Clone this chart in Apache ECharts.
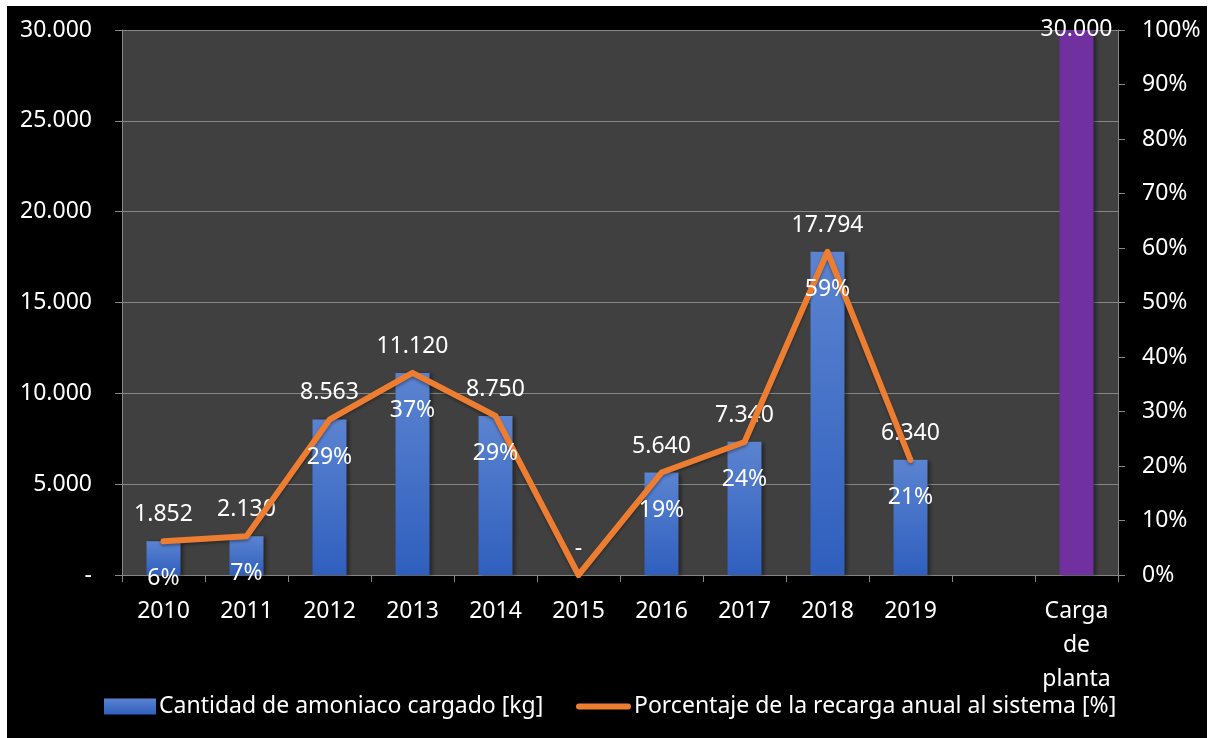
<!DOCTYPE html>
<html>
<head>
<meta charset="utf-8">
<script src="https://cdn.jsdelivr.net/npm/echarts@6/dist/echarts.min.js"></script>
<style>
html,body{margin:0;padding:0;background:#ffffff;width:1212px;height:738px;overflow:hidden;}
#c{position:absolute;left:7px;top:6px;width:1200px;height:732px;background:#000000;}
</style>
</head>
<body>
<div id="c"></div>
<script>
var categories = ['2010','2011','2012','2013','2014','2015','2016','2017','2018','2019','','Carga de planta'];
var amoniaco = [1852, 2130, 8563, 11120, 8750, 0, 5640, 7340, 17794, 6340, null, 30000];
var porcentaje = [6.2, 7.1, 28.5, 37.1, 29.2, 0, 18.8, 24.4, 59.3, 21.1, null, null];
var leftTicks = [0, 5000, 10000, 15000, 20000, 25000, 30000];
var seriesNames = ['Cantidad de amoniaco cargado [kg]', 'Porcentaje de la recarga anual al sistema [%]'];

var FONT = 'Noto Sans';
var FS = 23;
function fmtThousands(v){
  if (v === 0) return '-';
  return String(Math.round(v)).replace(/\B(?=(\d{3})+(?!\d))/g, '.');
}
var blueGrad = new echarts.graphic.LinearGradient(0,0,0,1,[
  {offset:0,color:'#5b83d0'},{offset:1,color:'#2f5fbe'}
]);
var barData = amoniaco.map(function(v, i){
  if (i === categories.length - 1) {
    return {value: v, itemStyle: {color: '#7030a0'}, label: {distance: -11}};
  }
  return v;
});
var axisColor = '#868686';
var chart = echarts.init(document.getElementById('c'));
chart.setOption({
  backgroundColor: '#000000',
  textStyle: {fontFamily: FONT},
  grid: {left: 115, right: 89, top: 24, bottom: 163, show: true, backgroundColor: '#404040', borderWidth: 0},
  legend: [
    {data: [{name: seriesNames[0], icon: 'rect', itemStyle: {color: blueGrad}}], left: 92, top: 684, itemWidth: 52, itemHeight: 16,
     textStyle: {color: '#ffffff', fontSize: FS, fontFamily: FONT, padding: [0,0,0,-2]}},
    {data: [{name: seriesNames[1], icon: 'path://M3,0 L52,0 A3,3 0 0 1 52,6 L3,6 A3,3 0 0 1 3,0 Z', itemStyle: {color: '#ed7d31'}}],
     left: 564, top: 684, itemWidth: 55, itemHeight: 6,
     textStyle: {color: '#ffffff', fontSize: FS, fontFamily: FONT, padding: [0,0,0,-2]}}
  ],
  xAxis: {
    type: 'category', data: categories, boundaryGap: true,
    axisLine: {lineStyle: {color: axisColor, width: 1}},
    axisTick: {show: true, length: 7, lineStyle: {color: axisColor}},
    axisLabel: {color: '#ffffff', fontSize: FS, fontFamily: FONT, margin: 19, lineHeight: 34, interval: 0,
      formatter: function(v){ return v.replace(/ /g, '\n'); }}
  },
  yAxis: [
    {type: 'value', min: leftTicks[0], max: leftTicks[leftTicks.length-1], interval: leftTicks[1]-leftTicks[0],
     axisLine: {show: true, lineStyle: {color: axisColor}},
     axisTick: {show: true, length: 7, lineStyle: {color: axisColor}},
     splitLine: {lineStyle: {color: axisColor, width: 1}},
     axisLabel: {color: '#ffffff', fontSize: FS, fontFamily: FONT, margin: 30, formatter: fmtThousands}},
    {type: 'value', min: 0, max: 100, interval: 10,
     axisLine: {show: true, lineStyle: {color: axisColor}},
     axisTick: {show: true, length: 7, lineStyle: {color: axisColor}},
     splitLine: {show: false},
     axisLabel: {color: '#ffffff', fontSize: FS, fontFamily: FONT, margin: 24, formatter: '{value}%'}}
  ],
  series: [
    {name: seriesNames[0], type: 'bar', data: barData, barWidth: 34, yAxisIndex: 0,
     itemStyle: {color: blueGrad, shadowBlur: 4, shadowColor: 'rgba(0,0,0,0.45)', shadowOffsetX: 2, shadowOffsetY: 1},
     label: {show: true, position: 'top', distance: 15, color: '#ffffff', fontSize: FS, fontFamily: FONT,
       formatter: function(p){ return p.value == null ? '' : fmtThousands(p.value); }}},
    {name: seriesNames[1], type: 'line', data: porcentaje, yAxisIndex: 1, z: 5,
     symbol: 'circle', symbolSize: 2, showSymbol: true, itemStyle: {color: '#ed7d31'},
     lineStyle: {color: '#ed7d31', width: 6, cap: 'round', join: 'round', shadowBlur: 3, shadowColor: 'rgba(0,0,0,0.35)', shadowOffsetY: 2},
     label: {show: true, position: 'bottom', distance: 25, color: '#ffffff', fontSize: FS, fontFamily: FONT,
       formatter: function(p){ return (p.value == null || p.value === 0) ? '' : Math.round(p.value) + '%'; }}}
  ]
});
</script>
</body>
</html>
